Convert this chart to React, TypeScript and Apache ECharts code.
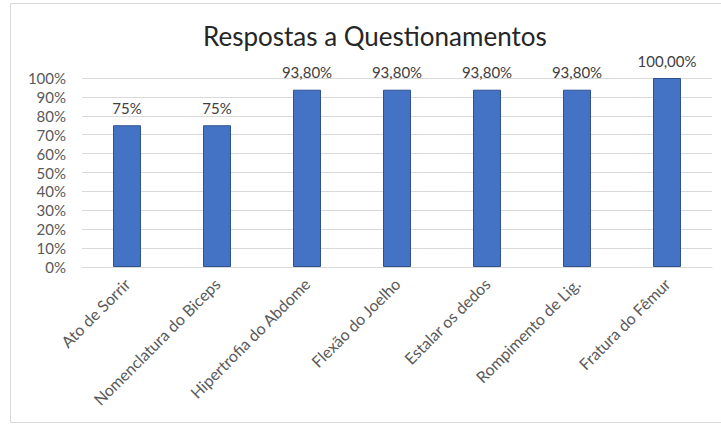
import React, { useEffect, useRef } from "react";
import * as echarts from "echarts";

const titleText = "Respostas a Questionamentos";
const categories = [
  "Ato de Sorrir",
  "Nomenclatura do Biceps",
  "Hipertrofia do Abdome",
  "Flexão do Joelho",
  "Estalar os dedos",
  "Rompimento de Lig.",
  "Fratura do Fêmur",
];
const values = [75, 75, 93.8, 93.8, 93.8, 93.8, 100];
const valueLabels = ["75%", "75%", "93,80%", "93,80%", "93,80%", "93,80%", "100,00%"];
const yTicks = { min: 0, max: 100, interval: 10 };

const FONT = "Lato, 'Open Sans', sans-serif";

export default function App() {
  const ref = useRef<HTMLDivElement>(null);
  useEffect(() => {
    if (!ref.current) return;
    const chart = echarts.init(ref.current, undefined, { renderer: "svg" });
    chart.setOption({
      animation: false,
      backgroundColor: "#ffffff",
      graphic: [
        {
          type: "rect",
          shape: { x: 10.5, y: 3.5, width: 730, height: 419 },
          style: { fill: "none", stroke: "#d9d9d9", lineWidth: 1 },
          silent: true,
        },
      ],
      title: {
        text: titleText,
        left: 198,
        top: 18,
        textStyle: { fontFamily: FONT, fontSize: 26, fontWeight: "normal", color: "#262626" },
      },
      grid: { left: 82, right: 9, top: 78, bottom: 163, containLabel: false },
      xAxis: {
        type: "category",
        data: categories,
        axisLine: { show: true, lineStyle: { color: "#d9d9d9", width: 1 } },
        axisTick: { show: false },
        axisLabel: {
          rotate: 45,
          interval: 0,
          margin: 14,
          fontFamily: FONT,
          fontSize: 16,
          color: "#595959",
        },
      },
      yAxis: {
        type: "value",
        min: yTicks.min,
        max: yTicks.max,
        interval: yTicks.interval,
        axisLine: { show: false },
        axisTick: { show: false },
        splitLine: { lineStyle: { color: "#d9d9d9", width: 1 } },
        axisLabel: {
          formatter: (v: number) => `${v}%`,
          fontFamily: FONT,
          fontSize: 15,
          color: "#595959",
          margin: 16,
        },
      },
      series: [
        {
          type: "bar",
          data: values,
          barWidth: 28,
          itemStyle: { color: "#4472C4", borderColor: "#2F528F", borderWidth: 1 },
          label: {
            show: true,
            position: "top",
            distance: 10,
            formatter: (p: any) => valueLabels[p.dataIndex],
            fontFamily: FONT,
            fontSize: 15,
            color: "#404040",
          },
        },
      ],
    });
    return () => chart.dispose();
  }, []);
  return (
    <div
      ref={ref}
      style={{ position: "fixed", left: 0, top: 0, width: 721, height: 430 }}
    />
  );
}
